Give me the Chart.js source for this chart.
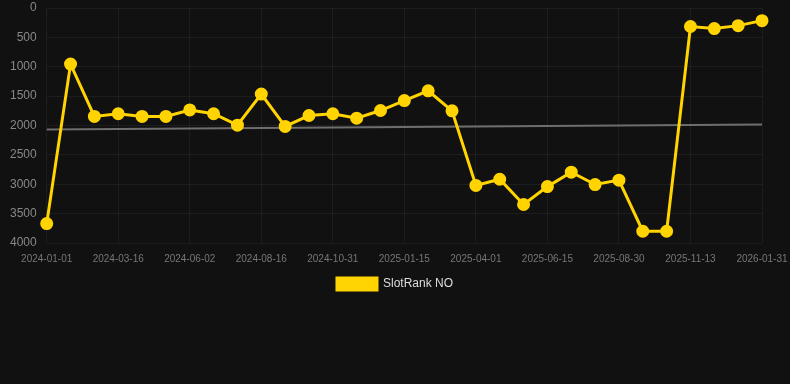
<!DOCTYPE html>
<html>
<head>
<meta charset="utf-8">
<script src="https://cdn.jsdelivr.net/npm/chart.js@4"></script>
<style>
  html, body { margin: 0; padding: 0; background: #111111; }
  #wrap { width: 790px; height: 300px; position: relative; }
</style>
</head>
<body>
<div id="wrap"><canvas id="c"></canvas></div>
<script>
const categories = [
  "2024-01-01","2024-01-26","2024-02-20","2024-03-16","2024-04-10","2024-05-08",
  "2024-06-02","2024-06-27","2024-07-22","2024-08-16","2024-09-10","2024-10-06",
  "2024-10-31","2024-11-25","2024-12-20","2025-01-15","2025-02-09","2025-03-06",
  "2025-04-01","2025-04-26","2025-05-21","2025-06-15","2025-07-10","2025-08-04",
  "2025-08-30","2025-09-24","2025-10-19","2025-11-13","2025-12-09","2026-01-05",
  "2026-01-31"
];
const rankValues = [
  3670, 955, 1845, 1800, 1845, 1845,
  1735, 1800, 1995, 1465, 2015, 1830,
  1800, 1875, 1745, 1575, 1410, 1750,
  3020, 2915, 3345, 3040, 2795, 3005,
  2930, 3800, 3800, 315, 350, 300,
  215
];
const trendValues = [2070].concat(new Array(29).fill(null)).concat([1985]);
const yTicks = [0, 500, 1000, 1500, 2000, 2500, 3000, 3500, 4000];
const seriesLabel = "SlotRank NO";

new Chart(document.getElementById('c'), {
  type: 'line',
  data: {
    labels: categories,
    datasets: [
      {
        label: seriesLabel,
        data: rankValues,
        borderColor: '#ffd400',
        backgroundColor: '#ffd400',
        borderWidth: 3,
        pointRadius: 5,
        pointHoverRadius: 5,
        pointBackgroundColor: '#ffd400',
        pointBorderColor: '#ffd400',
        tension: 0
      },
      {
        label: 'trend',
        data: trendValues,
        borderColor: '#6e6e6e',
        borderWidth: 2,
        pointRadius: 0,
        spanGaps: true,
        tension: 0
      }
    ]
  },
  options: {
    responsive: true,
    maintainAspectRatio: false,
    animation: false,
    layout: { padding: { top: 0, left: 0, right: 0, bottom: 0 } },
    plugins: {
      legend: {
        position: 'bottom',
        labels: {
          color: '#dddddd',
          boxWidth: 40,
          boxHeight: 12,
          padding: 13,
          font: { size: 12 },
          filter: (item) => item.text === seriesLabel
        }
      },
      tooltip: { enabled: false }
    },
    scales: {
      x: {
        grid: { color: 'rgba(255,255,255,0.05)', drawTicks: true, tickLength: 10, tickColor: 'rgba(0,0,0,0)' },
        border: { display: false },
        afterFit: (scale) => { scale.paddingRight = 28; },
        ticks: {
          color: '#777777',
          font: { size: 10 },
          maxRotation: 0,
          autoSkip: false,
          padding: 0,
          callback: function(value, index) {
            return index % 3 === 0 ? categories[index] : null;
          }
        }
      },
      y: {
        reverse: true,
        min: 0,
        max: 4000,
        grid: { color: 'rgba(255,255,255,0.05)', drawTicks: true, tickLength: 10, tickColor: 'rgba(0,0,0,0)' },
        border: { display: false },
        afterBuildTicks: (scale) => { scale.ticks = yTicks.map(v => ({ value: v })); },
        afterFit: (scale) => { scale.width += 10; },
        ticks: {
          color: '#888888',
          font: { size: 12 },
          padding: 0,
          callback: (value) => String(value)
        }
      }
    }
  }
});
</script>
</body>
</html>
